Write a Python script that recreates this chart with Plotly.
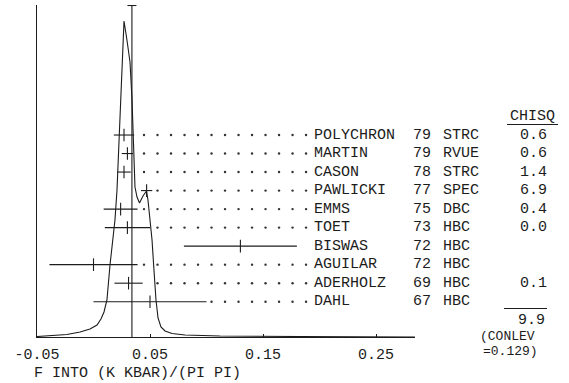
import numpy as np
import plotly.graph_objects as go

# ---------------- data ----------------
names = ["POLYCHRON", "MARTIN", "CASON", "PAWLICKI", "EMMS", "TOET",
         "BISWAS", "AGUILAR", "ADERHOLZ", "DAHL"]
years = ["79", "79", "78", "77", "75", "73", "72", "72", "69", "67"]
techs = ["STRC", "RVUE", "STRC", "SPEC", "DBC", "HBC", "HBC", "HBC", "HBC", "HBC"]
chisq = ["0.6", "0.6", "1.4", "6.9", "0.4", "0.0", "", "", "0.1", ""]
values = [0.027, 0.030, 0.027, 0.047, 0.024, 0.030, 0.130, 0.000, 0.031, 0.050]
errors = [0.009, 0.005, 0.006, 0.005, 0.015, 0.020, 0.050, 0.039, 0.0125, 0.050]
mean_value = 0.034
chisq_total = "9.9"
conlev = "0.129"

# ideogram curve (x in data units, height in arbitrary units)
ideo_x = [-0.0500, -0.0341, -0.0235, -0.0119, -0.0031, 0.0031, 0.0066, 0.0093,
          0.0119, 0.0146, 0.0173, 0.0190, 0.0208, 0.0226, 0.0243, 0.0270,
          0.0296, 0.0323, 0.0341, 0.0350, 0.0358, 0.0367, 0.0385, 0.0407,
          0.0438, 0.0469, 0.0482, 0.0500, 0.0518, 0.0535, 0.0553, 0.0571,
          0.0597, 0.0633, 0.0695, 0.0810, 0.1119, 0.1827, 0.2845]
ideo_h = [0.5, 1.5, 2.5, 5, 8, 12, 18, 25,
          37, 72, 97, 117, 147, 197, 247, 316,
          297, 275, 237, 204, 172, 150, 140, 134,
          141, 146, 137, 117, 97, 67, 37, 19,
          10, 6, 3.5, 2, 1, 0.5, 0]

tick_vals = [-0.05, 0.05, 0.15, 0.25]
tick_text = ["-0.05", "0.05", "0.15", "0.25"]
x_title = "F INTO (K KBAR)/(PI PI)"

# ---------------- layout constants ----------------
W, H = 569, 383
L, R, T, B = 37, 415, 5, 337          # plot area in pixels
INK = "#1c1c1c"
FONT = dict(family="Liberation Mono, DejaVu Sans Mono, monospace", size=15, color=INK)
SMALL = dict(family="Liberation Mono, DejaVu Sans Mono, monospace", size=13, color=INK)

def px(x):   # pixel x -> paper x
    return (x - L) / (R - L)

def py(y):   # pixel y -> paper y
    return (B - y) / (B - T)

n = len(names)
rows = list(range(n - 1, -1, -1))     # POLYCHRON on top
row_step = 18.52
y_lo = -(B - 301.7) / row_step
y_hi = (301.7 - T) / row_step

fig = go.Figure()

# ideogram
fig.add_trace(go.Scatter(x=ideo_x, y=ideo_h, mode="lines", yaxis="y2",
                         line=dict(color=INK, width=1.1), hoverinfo="skip"))

# weighted mean line with cap
fig.add_trace(go.Scatter(x=[mean_value, mean_value], y=[0, 331.5], mode="lines",
                         yaxis="y2", line=dict(color=INK, width=1.1), hoverinfo="skip"))
fig.add_trace(go.Scatter(x=[mean_value - 0.004, mean_value + 0.004], y=[331.5, 331.5],
                         mode="lines", yaxis="y2", line=dict(color=INK, width=1.1),
                         hoverinfo="skip"))

# leader dots
dot_start, dot_step, dot_end = 0.0447, 0.01195, 0.1890
grid = np.arange(dot_start, dot_end + 1e-9, dot_step)
dx, dy = [], []
for v, e, r in zip(values, errors, rows):
    hi = max(v + e, mean_value)
    if hi > 0.15:
        continue
    for g in grid:
        if g > hi + 0.004:
            dx.append(g)
            dy.append(r)
fig.add_trace(go.Scatter(x=dx, y=dy, mode="markers",
                         marker=dict(symbol="circle", size=2.4, color="#333"),
                         hoverinfo="skip"))

# measurements with error bars
fig.add_trace(go.Scatter(
    x=values, y=rows, mode="markers",
    marker=dict(symbol="line-ns", size=9, line=dict(width=1.1, color=INK), color=INK),
    error_x=dict(type="data", array=errors, visible=True, width=0,
                 thickness=1.1, color=INK),
    hoverinfo="skip"))

ann = []
for nm, yr, tc, cs, r in zip(names, years, techs, chisq, rows):
    ann.append(dict(x=px(312), y=r, xref="paper", yref="y", text=nm,
                    xanchor="left", yanchor="middle", showarrow=False, font=FONT))
    ann.append(dict(x=px(411), y=r, xref="paper", yref="y", text=yr,
                    xanchor="left", yanchor="middle", showarrow=False, font=FONT))
    ann.append(dict(x=px(441), y=r, xref="paper", yref="y", text=tc,
                    xanchor="left", yanchor="middle", showarrow=False, font=FONT))
    if cs:
        ann.append(dict(x=px(533), y=r, xref="paper", yref="y", text=cs,
                        xanchor="center", yanchor="middle", showarrow=False, font=FONT))

ann.append(dict(x=px(532), y=py(117), xref="paper", yref="paper", text="CHISQ",
                xanchor="center", yanchor="middle", showarrow=False, font=FONT))
ann.append(dict(x=px(531), y=py(320), xref="paper", yref="paper", text=chisq_total,
                xanchor="center", yanchor="middle", showarrow=False, font=FONT))
ann.append(dict(x=px(478), y=py(336.5), xref="paper", yref="paper", text="(CONLEV",
                xanchor="left", yanchor="middle", showarrow=False, font=SMALL))
ann.append(dict(x=px(481), y=py(351.5), xref="paper", yref="paper",
                text="=" + conlev + ")", xanchor="left", yanchor="middle",
                showarrow=False, font=SMALL))
ann.append(dict(x=px(32), y=py(373), xref="paper", yref="paper", text=x_title,
                xanchor="left", yanchor="middle", showarrow=False, font=FONT))

shapes = [
    dict(type="line", xref="paper", yref="paper", x0=px(507), x1=px(558),
         y0=py(124.5), y1=py(124.5), line=dict(color=INK, width=1)),
    dict(type="line", xref="paper", yref="paper", x0=px(504), x1=px(547),
         y0=py(308.5), y1=py(308.5), line=dict(color=INK, width=1)),
]

fig.update_layout(
    width=W, height=H,
    margin=dict(l=L, r=W - R, t=T, b=H - B, pad=0),
    paper_bgcolor="white", plot_bgcolor="white",
    showlegend=False,
    xaxis=dict(range=[-0.05, -0.05 + (R - L) / 1130.0], showgrid=False, zeroline=False,
               showline=True, linecolor=INK, linewidth=1.1,
               ticks="inside", ticklen=3, tickcolor=INK, tickwidth=1,
               tickvals=tick_vals, ticktext=tick_text, tickfont=FONT,
               ticklabelstandoff=3),
    yaxis=dict(range=[y_lo, y_hi], showgrid=False, zeroline=False, showline=True,
               linecolor=INK, linewidth=1.1, showticklabels=False, ticks=""),
    yaxis2=dict(range=[0, 332], overlaying="y", visible=False),
    annotations=ann, shapes=shapes,
)

fig.write_html("out.html",
               config={"displayModeBar": False, "staticPlot": True},
               post_script="document.body.style.margin='0';document.body.style.overflow='hidden';")
